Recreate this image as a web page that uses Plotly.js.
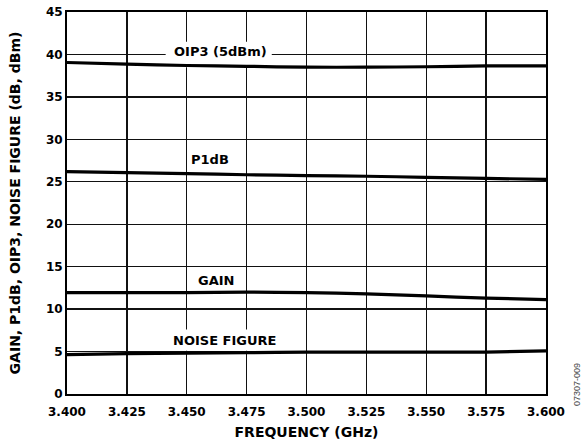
<!DOCTYPE html>
<html>
<head>
<meta charset="utf-8">
<script src="https://cdn.plot.ly/plotly-3.0.1.min.js"></script>
<style>html,body{margin:0;padding:0;background:#fff;}#chart{width:583px;height:444px;}</style>
</head>
<body>
<div id="chart"></div>
<script>
const freq = [3.400, 3.425, 3.450, 3.475, 3.500, 3.525, 3.550, 3.575, 3.600];
const oip3 = [39.05, 38.85, 38.70, 38.60, 38.50, 38.50, 38.55, 38.65, 38.65];
const p1db = [26.20, 26.07, 25.95, 25.83, 25.72, 25.65, 25.53, 25.40, 25.28];
const gain = [11.95, 11.95, 11.95, 12.00, 11.95, 11.79, 11.55, 11.30, 11.12];
const nf   = [4.63, 4.75, 4.82, 4.86, 4.93, 4.94, 4.94, 4.94, 5.08];

const seriesNames = ['OIP3 (5dBm)', 'P1dB', 'GAIN', 'NOISE FIGURE'];
const seriesVals = [oip3, p1db, gain, nf];
const labelX = [3.464, 3.4598, 3.4624, 3.4658];
const labelY = [40.35, 27.65, 13.4, 6.32];

const xTicks = [3.400, 3.425, 3.450, 3.475, 3.500, 3.525, 3.550, 3.575, 3.600];
const xTickText = ['3.400', '3.425', '3.450', '3.475', '3.500', '3.525', '3.550', '3.575', '3.600'];
const yTicks = [0, 5, 10, 15, 20, 25, 30, 35, 40, 45];

const FONT = 'DejaVu Sans, Arial, sans-serif';

const traces = seriesVals.map((v, i) => ({
  x: freq, y: v, type: 'scatter', mode: 'lines', name: seriesNames[i],
  line: {color: '#000', width: 3.2, shape: 'spline', smoothing: 0.6},
  hoverinfo: 'skip'
}));

const annotations = seriesNames.map((n, i) => ({
  x: labelX[i], y: labelY[i], xref: 'x', yref: 'y', text: '<b>' + n + '</b>',
  showarrow: false, xanchor: 'center', yanchor: 'middle',
  font: {family: FONT, size: 13, color: '#000'}
}));
annotations.push({
  xref: 'paper', yref: 'paper', x: 1.0647, y: 0.026, text: '07307-009',
  textangle: -90, showarrow: false, xanchor: 'center', yanchor: 'middle',
  font: {family: 'Liberation Sans, Arial, sans-serif', size: 9, color: '#444'}
});

const shapes = [
  {type: 'rect', xref: 'x', yref: 'y', x0: 3.4412, x1: 3.4855, y0: 38.5, y1: 41.5,
   fillcolor: '#fff', line: {width: 0}, layer: 'between'},
  {type: 'rect', xref: 'x', yref: 'y', x0: 3.4408, x1: 3.4909, y0: 5.1, y1: 7.6,
   fillcolor: '#fff', line: {width: 0}, layer: 'between'}
];

const layout = {
  width: 583, height: 444,
  margin: {l: 67, r: 37, t: 12, b: 50},
  paper_bgcolor: '#fff', plot_bgcolor: '#fff',
  showlegend: false,
  font: {family: FONT, color: '#000'},
  xaxis: {
    range: [3.4, 3.6], tickvals: xTicks, ticktext: xTickText,
    showgrid: true, gridcolor: '#111', gridwidth: 1.3,
    zeroline: false, showline: true, linecolor: '#000', linewidth: 2, mirror: true,
    ticks: '', ticklabelstandoff: 6,
    tickfont: {family: FONT, size: 12, color: '#000', weight: 'bold'},
    title: {text: '<b>FREQUENCY (GHz)</b>', font: {family: FONT, size: 14, color: '#000'}, standoff: 9},
    fixedrange: true
  },
  yaxis: {
    range: [0, 45], tickvals: yTicks,
    showgrid: true, gridcolor: '#111', gridwidth: 1.3,
    zeroline: false, showline: true, linecolor: '#000', linewidth: 2, mirror: true,
    ticks: '', tickfont: {family: FONT, size: 12, color: '#000', weight: 'bold'},
    title: {text: '<b>GAIN, P1dB, OIP3, NOISE FIGURE (dB, dBm)</b>', font: {family: FONT, size: 14, color: '#000'}, standoff: 22},
    fixedrange: true
  },
  annotations: annotations,
  shapes: shapes
};

Plotly.newPlot('chart', traces, layout, {displayModeBar: false, staticPlot: true});
</script>
</body>
</html>
